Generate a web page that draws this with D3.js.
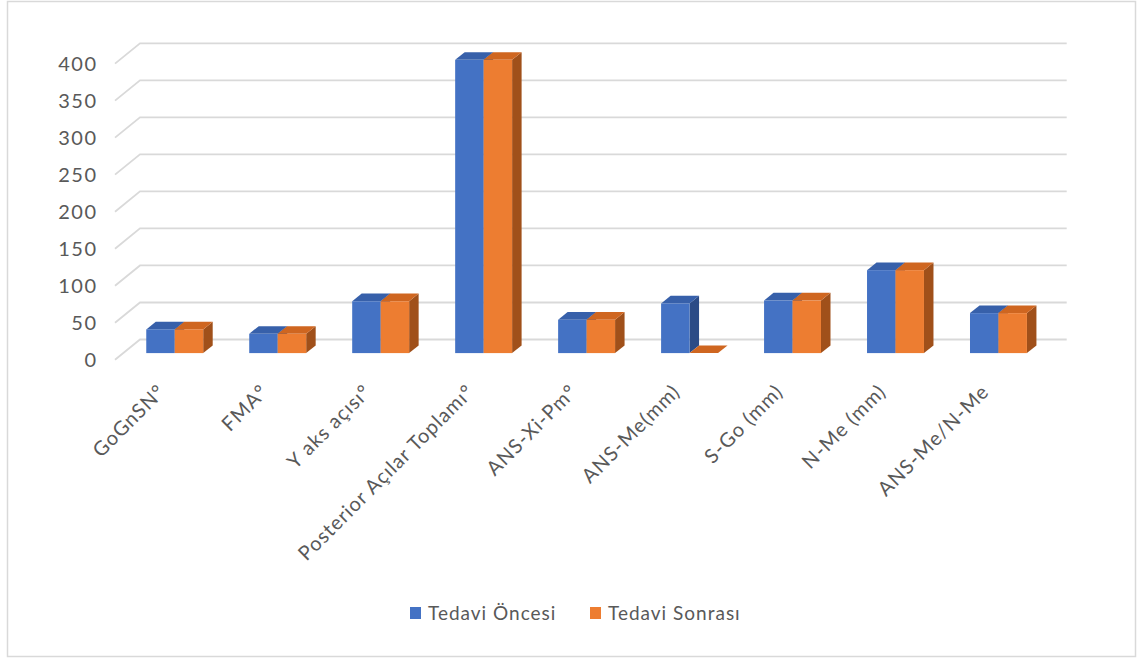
<!DOCTYPE html>
<html>
<head>
<meta charset="utf-8">
<script src="https://cdn.jsdelivr.net/npm/d3@7/dist/d3.min.js"></script>
<style>
  html, body { margin: 0; padding: 0; background: #fff; }
  svg { display: block; }
  text { font-family: Lato, "Open Sans", sans-serif; fill: #595959; }
</style>
</head>
<body>
<svg id="chart" width="1140" height="661"></svg>
<script>
// Measurements (categories) and the two series
const categories = [
  "GoGnSN°", "FMA°", "Y aks açısı°", "Posterior Açılar Toplamı°", "ANS-Xi-Pm°",
  "ANS-Me(mm)", "S-Go (mm)", "N-Me (mm)", "ANS-Me/N-Me"
];
const seriesNames = ["Tedavi Öncesi", "Tedavi Sonrası"];
const tedaviOncesi  = [32, 26, 70, 396, 45, 67, 71, 112, 54];
const tedaviSonrasi = [32, 26, 70, 396, 45, 0, 71, 112, 54];
const yTicks = [0, 50, 100, 150, 200, 250, 300, 350, 400];

const colors = {
  front: ["#4472C4", "#ED7D31"],
  top:   ["#3760aa", "#cf6620"],
  side:  ["#2b4b86", "#a0501a"]
};

const svg = d3.select("#chart");

// Chart frame
svg.append("rect")
  .attr("x", 7.5).attr("y", 1.5).attr("width", 1128).attr("height", 655)
  .attr("fill", "#fff").attr("stroke", "#d9d9d9").attr("stroke-width", 1.5);

// Back wall geometry and depth vector (back -> front)
const wallLeft = 140, wallRight = 1066.7;
const depth = { dx: -25, dy: 20.3 };
const barFront = 0.67, barBack = 0.29;   // bar slab position along the depth

const y = d3.scaleLinear().domain([0, 400]).range([339.5, 43.3]);
const x = d3.scaleBand().domain(categories).range([wallLeft, wallRight])
  .paddingInner(0.447).paddingOuter(0.2235);
const xs = d3.scaleBand().domain(seriesNames).range([0, x.bandwidth()]);

// Gridlines: back wall plus the slanted side-wall segment
const grid = svg.append("g").attr("stroke", "#d9d9d9").attr("stroke-width", 1.8).attr("fill", "none");
yTicks.forEach(t => {
  grid.append("path")
    .attr("d", `M${wallLeft + depth.dx},${y(t) + depth.dy} L${wallLeft},${y(t)} L${wallRight},${y(t)}`);
});

// Y tick labels on the front plane
svg.append("g").selectAll("text").data(yTicks).join("text")
  .attr("x", 97.5).attr("y", d => y(d) + depth.dy)
  .attr("dy", "0.35em")
  .attr("text-anchor", "end")
  .attr("font-size", 20)
  .attr("letter-spacing", 1.5)
  .text(d => d);

// 3D columns
const fx = depth.dx * barFront, fy = depth.dy * barFront;
const bx = depth.dx * barBack,  by = depth.dy * barBack;
const ddx = bx - fx, ddy = by - fy;
const seriesValues = [tedaviOncesi, tedaviSonrasi];

const bars = svg.append("g");
categories.forEach((cat, i) => {
  seriesValues.forEach((vals, s) => {
    const v = vals[i];
    const x0 = x(cat) + xs(seriesNames[s]) + fx;
    const w = xs.bandwidth();
    const yb = y(0) + fy, yt = y(v) + fy;
    const g = bars.append("g");
    // right side face
    g.append("path")
      .attr("d", `M${x0 + w},${yt} L${x0 + w + ddx},${yt + ddy} L${x0 + w + ddx},${yb + ddy} L${x0 + w},${yb} Z`)
      .attr("fill", colors.side[s]);
    // top face
    g.append("path")
      .attr("d", `M${x0},${yt} L${x0 + w},${yt} L${x0 + w + ddx},${yt + ddy} L${x0 + ddx},${yt + ddy} Z`)
      .attr("fill", colors.top[s]);
    // front face
    if (v > 0) {
      g.append("rect")
        .attr("x", x0).attr("y", yt).attr("width", w).attr("height", yb - yt)
        .attr("fill", colors.front[s]);
    }
  });
});

// Category labels, rotated
svg.append("g").selectAll("text").data(categories).join("text")
  .attr("transform", d => {
    const cx = x(d) + x.bandwidth() / 2 + depth.dx;
    return `translate(${cx},${393}) rotate(-45)`;
  })
  .attr("text-anchor", "end")
  .attr("font-size", 20)
  .attr("letter-spacing", 1)
  .text(d => d);

// Legend
const legend = svg.append("g").attr("transform", "translate(0,613)");
const legendX = [410, 590];
seriesNames.forEach((name, s) => {
  legend.append("rect")
    .attr("x", legendX[s]).attr("y", -6).attr("width", 11).attr("height", 12)
    .attr("fill", colors.front[s]);
  legend.append("text")
    .attr("x", legendX[s] + 18).attr("y", 0).attr("dy", "0.35em")
    .attr("font-size", 19)
    .attr("letter-spacing", 1)
    .text(name);
});
</script>
</body>
</html>
